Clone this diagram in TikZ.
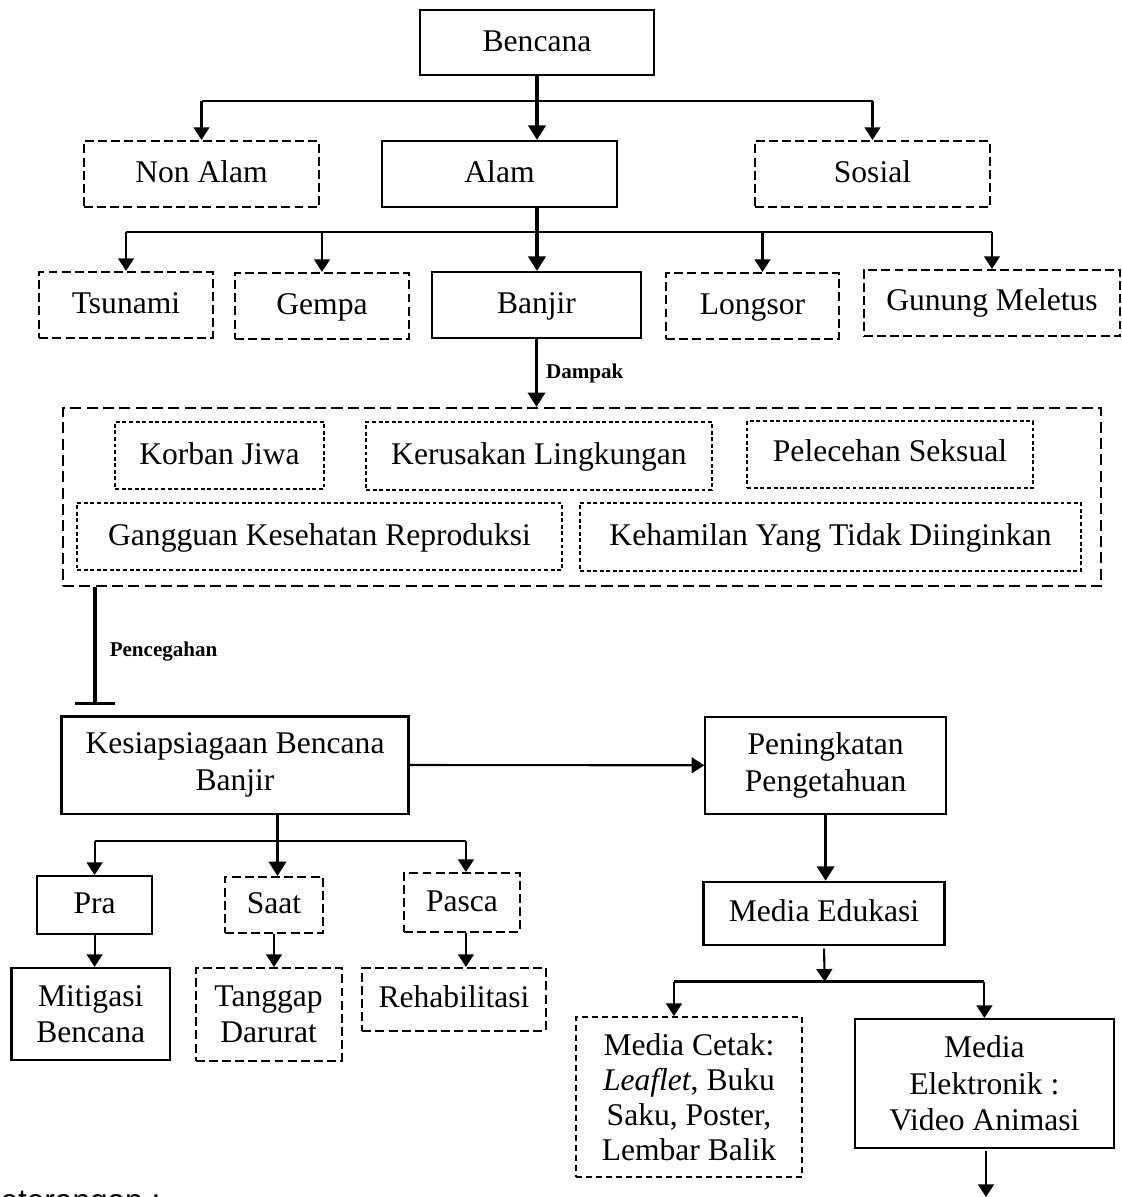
\documentclass[tikz,border=0pt]{standalone}
\usepackage{fontspec}
\setmainfont{Liberation Serif}
\newfontfamily\ketfont{Liberation Sans}
\usetikzlibrary{positioning, arrows.meta, calc}

\begin{document}
\begin{tikzpicture}[
                x=0.38pt, y=-0.38pt,
                base/.style={draw=black, line width=0.8pt, rectangle, inner sep=0pt, align=center, font=\fontsize{12}{13.8}\selectfont},
                oneline/.style={text height=9pt, text depth=2.5pt},
                box/.style={base, oneline},
                boxm/.style={base},
                dashbox/.style={box, dash pattern=on 3.4pt off 1.6pt},
                dashboxm/.style={boxm, dash pattern=on 3.4pt off 1.6pt},
                bigbox/.style={base, dash pattern=on 4.2pt off 2pt},
                dotbox/.style={box, line width=0.6pt, dash pattern=on 1.5pt off 1pt},
                cetakbox/.style={boxm, dash pattern=on 2.2pt off 1.6pt, font=\fontsize{12}{13.3}\selectfont},
                trunk/.style={line width=1.3pt, -{Triangle[length=5.5pt, width=6.5pt]}},
                drop/.style={line width=0.8pt, -{Triangle[length=4.8pt, width=6pt]}},
                bar/.style={line width=1.1pt},
                edgelabel/.style={font=\fontsize{8}{9}\selectfont\bfseries, inner sep=0pt}
            ]

            \useasboundingbox (0,0) rectangle (1122,1197);

            % Knoten
            \node[box, minimum width=88.9pt, minimum height=24.7pt] (bencana) at (537,42.5) {Bencana};
            \node[dashbox, minimum width=89.3pt, minimum height=25.1pt] (nonalam) at (201.5,174) {Non Alam};
            \node[box, minimum width=89.3pt, minimum height=25.1pt] (alam) at (499.5,174) {Alam};
            \node[dashbox, minimum width=89.3pt, minimum height=25.1pt] (sosial) at (872.5,174) {Sosial};

            \node[dashbox, minimum width=65.9pt, minimum height=25.1pt] (tsunami) at (126,305) {Tsunami};
            \node[dashbox, minimum width=66.1pt, minimum height=25.1pt] (gempa) at (322,306) {Gempa};
            \node[box, minimum width=79.1pt, minimum height=25.1pt] (banjir) at (536.5,305) {Banjir};
            \node[dashbox, minimum width=65.7pt, minimum height=25.1pt] (longsor) at (752.5,306) {Longsor};
            \node[dashbox, text depth=3.6pt, minimum width=97.5pt, minimum height=25.1pt] (gunung) at (992,303) {Gunung Meletus};

            \node[bigbox, minimum width=394.4pt, minimum height=67.6pt] (dampakbox) at (582,497) {};
            \node[dotbox, minimum width=79.4pt, minimum height=25.5pt] (korban) at (219.5,455.5) {Korban Jiwa};
            \node[dotbox, minimum width=131.5pt, minimum height=25.8pt] (kerusakan) at (539,456) {Kerusakan Lingkungan};
            \node[dotbox, text depth=4pt, minimum width=108.5pt, minimum height=25.5pt] (pelecehan) at (890,454.5) {Pelecehan Seksual};
            \node[dotbox, minimum width=184.3pt, minimum height=25.5pt] (gangguan) at (319.5,536.5) {Gangguan Kesehatan Reproduksi};
            \node[dotbox, minimum width=190.4pt, minimum height=25.8pt] (kehamilan) at (830.5,537) {Kehamilan Yang Tidak Diinginkan};

            \node[boxm, minimum width=131.9pt, minimum height=36.9pt] (kesiap) at (235,765) {Kesiapsiagaan Bencana\\Banjir};
            \node[boxm, minimum width=91.4pt, minimum height=37pt] (peningkatan) at (825.6,765.3) {Peningkatan\\Pengetahuan};

            \node[box, minimum width=43.8pt, minimum height=22pt] (pra) at (94.6,905) {Pra};
            \node[dashbox, minimum width=37.4pt, minimum height=21.2pt] (saat) at (274,905) {Saat};
            \node[dashbox, minimum width=44pt, minimum height=22.4pt] (pasca) at (462,902.5) {Pasca};
            \node[boxm, minimum width=60.2pt, minimum height=35pt] (mitigasi) at (90.7,1014) {Mitigasi\\Bencana};
            \node[dashboxm, minimum width=55.5pt, minimum height=35.3pt] (tanggap) at (268.6,1014.5) {Tanggap\\Darurat};
            \node[dashbox, minimum width=69.7pt, minimum height=23.8pt] (rehab) at (454,999.3) {Rehabilitasi};

            \node[box, minimum width=91.6pt, minimum height=24pt] (edukasi) at (824,913.4) {Media Edukasi};
            \node[cetakbox, minimum width=86pt, minimum height=60.7pt] (cetak) at (689,1097) {Media Cetak:\\\textit{Leaflet}, Buku\\Saku, Poster,\\Lembar Balik};
            \node[boxm, minimum width=98.3pt, minimum height=48.9pt] (elektronik) at (984.4,1083.4) {Media\\Elektronik :\\Video Animasi};

            \node[anchor=base west, inner sep=0pt, font=\ketfont\fontsize{12}{14}\selectfont] (ket) at (-21,1211) {Keterangan :};

            % Kanten
            \coordinate (j1) at (538,101);
            \coordinate (j2) at (538,232);
            \coordinate (j3) at (277.5,841);
            \coordinate (j4) at (824.7,981.7);
            \coordinate (keluar) at (986,1197);

            \draw[trunk] (bencana.south) -- (bencana.south |- alam.north);
            \draw[bar] (nonalam.north |- j1) -- (sosial.north |- j1);
            \draw[drop] (nonalam.north |- j1) -- (nonalam.north);
            \draw[drop] (sosial.north |- j1) -- (sosial.north);

            \draw[trunk] (bencana.south |- alam.south) -- (bencana.south |- banjir.north);
            \draw[bar] (tsunami.north |- j2) -- (gunung.north |- j2);
            \draw[drop] (tsunami.north |- j2) -- (tsunami.north);
            \draw[drop] (gempa.north |- j2) -- (gempa.north);
            \draw[drop] ([xshift=3.8pt]longsor.north |- j2) -- ([xshift=3.8pt]longsor.north);
            \draw[drop] (gunung.north |- j2) -- (gunung.north);

            \draw[trunk] (banjir.south) -- (banjir.south |- dampakbox.north) node[midway, right=3pt, edgelabel] {Dampak};
            \draw[line width=1.3pt, -{Bar[width=15pt]}, shorten >=3.8pt] ([xshift=12.5pt]dampakbox.south west) -- ([xshift=12.5pt]dampakbox.south west |- kesiap.north) node[midway, right=5pt, edgelabel] {Pencegahan};

            \draw[drop] (kesiap.east) -- (peningkatan.west);
            \draw[trunk] (j3 |- kesiap.south) -- (j3 |- saat.north);
            \draw[bar] (pra.north |- j3) -- ([xshift=1.5pt]pasca.north |- j3);
            \draw[drop] (pra.north |- j3) -- (pra.north);
            \draw[drop] ([xshift=1.5pt]pasca.north |- j3) -- ([xshift=1.5pt]pasca.north);

            \draw[drop] (pra.south) -- (pra.south |- mitigasi.north);
            \draw[drop] (saat.south) -- (saat.south |- tanggap.north);
            \draw[drop] ([xshift=1.5pt]pasca.south) -- ([xshift=1.5pt]pasca.south |- rehab.north);

            \draw[trunk] (peningkatan.south) -- (peningkatan.south |- edukasi.north);
            \draw[drop, shorten <=1pt] (edukasi.south) -- (j4);
            \draw[bar] ([xshift=-5.7pt]cetak.north |- j4) -- (elektronik.north |- j4);
            \draw[drop] ([xshift=-5.7pt]cetak.north |- j4) -- ([xshift=-5.7pt]cetak.north);
            \draw[drop] (elektronik.north |- j4) -- (elektronik.north);
            \draw[drop, shorten <=1pt] (elektronik.south -| keluar) -- (keluar);

        \end{tikzpicture}
\end{document}
